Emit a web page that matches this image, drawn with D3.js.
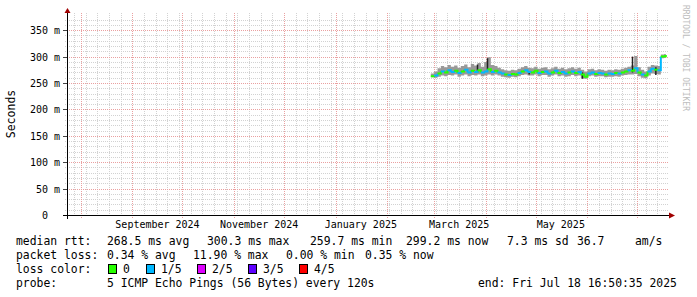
<!DOCTYPE html>
<html>
<head>
<meta charset="utf-8">
<script src="https://d3js.org/d3.v7.min.js"></script>
<style>
  body { margin: 0; background: #fff; }
  text { font-family: "DejaVu Sans Mono", monospace; white-space: pre; }
</style>
</head>
<body>
<div id="chart"></div>
<script>

// ---- data ----
var endTime = new Date(Date.UTC(2025, 6, 18, 16, 50, 35));
var spanDays = 360;

var dates = ["2025-02-27","2025-03-01","2025-03-03","2025-03-05","2025-03-07","2025-03-09","2025-03-11","2025-03-13",
  "2025-03-15","2025-03-17","2025-03-19","2025-03-21","2025-03-23","2025-03-25","2025-03-27","2025-03-29",
  "2025-03-31","2025-04-02","2025-04-04","2025-04-06","2025-04-08","2025-04-10","2025-04-12","2025-04-14",
  "2025-04-16","2025-04-18","2025-04-20","2025-04-22","2025-04-24","2025-04-26","2025-04-28","2025-04-30",
  "2025-05-02","2025-05-04","2025-05-06","2025-05-08","2025-05-10","2025-05-12","2025-05-14","2025-05-16",
  "2025-05-18","2025-05-20","2025-05-22","2025-05-24","2025-05-26","2025-05-28","2025-05-30","2025-06-01",
  "2025-06-03","2025-06-05","2025-06-07","2025-06-09","2025-06-11","2025-06-13","2025-06-15","2025-06-17",
  "2025-06-19","2025-06-21","2025-06-23","2025-06-25","2025-06-27","2025-06-29","2025-07-01","2025-07-03",
  "2025-07-05","2025-07-07","2025-07-09","2025-07-11","2025-07-13","2025-07-15","2025-07-17","2025-07-18"];

// median rtt, ms
var median = [263,264,268,272,270,274,271,273,269,272,275,270,273,271,274,270,
  272,276,271,273,270,268,266,265,267,266,269,272,274,271,270,273,
  269,271,272,268,270,273,269,271,268,270,272,269,271,266,262,268,
  270,267,269,268,266,268,267,269,268,270,272,274,273,278,270,266,
  264,272,277,275,274,300,301,299];

// smoke band (ms)
var smokeLo = [261,260,262,264,263,265,264,266,262,264,266,263,265,264,266,263,
  264,266,264,266,264,262,261,260,262,261,263,265,266,264,264,266,
  263,265,265,262,264,266,263,264,262,263,265,263,264,259,258,263,
  264,262,263,263,261,262,262,263,262,264,265,266,266,267,263,260,
  259,264,268,267,266,297,298,297];
var smokeHi = [268,272,278,282,280,284,281,283,279,282,285,280,286,283,288,281,
  290,299,284,282,279,276,274,273,275,274,277,280,282,279,278,281,
  277,279,280,276,278,281,277,279,276,278,280,277,279,275,272,276,
  277,274,276,275,273,275,274,276,275,277,279,281,283,301,280,275,
  272,281,284,283,282,304,305,303];

// lost pings out of 5
var lossLevel = [0,1,0,1,0,1,1,0,1,0,1,1,0,1,0,1,
  1,0,1,0,1,1,0,1,0,0,1,0,1,1,0,0,
  1,0,1,1,0,1,0,1,1,0,1,0,1,0,0,1,
  1,0,1,1,0,1,1,0,1,0,0,1,0,1,0,1,
  0,1,1,0,1,0,0,0];

// dark outlier streaks
var outlierDates = ["2025-03-27","2025-04-02","2025-04-27","2025-05-29","2025-06-28","2025-07-12"];
var outlierLo = [270,275,266,258,270,265];
var outlierHi = [285,297,272,270,300,280];

var lossColors = ["#26ff00","#00b8ff","#dd00ff","#5e00ff","#ff0000"];
var lossNames = ["0","1/5","2/5","3/5","4/5"];

var yTicks = [0,50,100,150,200,250,300,350];
var yTickLabels = ["0  ","50 m","100 m","150 m","200 m","250 m","300 m","350 m"];

var xLabelMonths = ["2024-09-01","2024-11-01","2025-01-01","2025-03-01","2025-05-01"];
var xLabelText = ["September 2024","November 2024","January 2025","March 2025","May 2025"];

// ---- layout ----
var W = 697, H = 297;
var x0 = 67, x1 = 667, yTop = 15, yBot = 215;

var svg = d3.select("#chart").append("svg")
  .attr("width", W).attr("height", H);

svg.append("rect").attr("width", W).attr("height", H).attr("fill", "#fff");

var parse = d3.utcParse("%Y-%m-%d");
var startTime = new Date(endTime.getTime() - spanDays * 864e5);

var x = d3.scaleUtc().domain([startTime, endTime]).range([x0, x1]);
var y = d3.scaleLinear().domain([0, 378.8]).range([yBot, yTop]);

var grid = svg.append("g").attr("shape-rendering", "crispEdges");
var minorCol = "#d2d2d2", majorCol = "#eaa0a0";

// minor horizontal grid every 10 ms
d3.range(10, 378, 10).filter(function(v) { return v % 50 != 0; }).forEach(function(v) {
  grid.append("line")
    .attr("x1", x0 - 2).attr("x2", x1 + 2)
    .attr("y1", Math.round(y(v)) + 0.5).attr("y2", Math.round(y(v)) + 0.5)
    .attr("stroke", minorCol).attr("stroke-dasharray", "1,1");
});

// minor vertical grid weekly
d3.utcSunday.range(startTime, endTime).forEach(function(d) {
  grid.append("line")
    .attr("x1", Math.round(x(d)) + 0.5).attr("x2", Math.round(x(d)) + 0.5)
    .attr("y1", yTop - 2).attr("y2", yBot + 2)
    .attr("stroke", minorCol).attr("stroke-dasharray", "1,1");
});

// major vertical grid monthly
d3.utcMonth.range(startTime, endTime).forEach(function(d) {
  grid.append("line")
    .attr("x1", Math.round(x(d)) + 0.5).attr("x2", Math.round(x(d)) + 0.5)
    .attr("y1", yTop - 2).attr("y2", yBot + 3)
    .attr("stroke", majorCol).attr("stroke-dasharray", "1,1");
});

// major horizontal grid
yTicks.forEach(function(v, i) {
  if (v > 0) {
    grid.append("line")
      .attr("x1", x0).attr("x2", x1 + 2)
      .attr("y1", Math.round(y(v)) + 0.5).attr("y2", Math.round(y(v)) + 0.5)
      .attr("stroke", majorCol).attr("stroke-dasharray", "1,1");
  }
  grid.append("line")
    .attr("x1", x0 - 4).attr("x2", x0)
    .attr("y1", Math.round(y(v)) + 0.5).attr("y2", Math.round(y(v)) + 0.5)
    .attr("stroke", "#444");
  svg.append("text")
    .attr("x", 60).attr("y", y(v) + 4)
    .attr("text-anchor", "end")
    .attr("font-size", "10px")
    .attr("fill", "#000")
    .text(yTickLabels[i]);
});

// x labels (centred mid month)
xLabelMonths.forEach(function(m, i) {
  var d = parse(m);
  var mid = new Date(d.getTime() + 15 * 864e5);
  svg.append("text")
    .attr("x", x(mid)).attr("y", 228)
    .attr("text-anchor", "middle")
    .attr("font-size", "10px")
    .attr("fill", "#000")
    .text(xLabelText[i]);
});

// ---- data ----
var pts = dates.map(function(d, i) {
  return { date: parse(d), med: median[i], lo: smokeLo[i], hi: smokeHi[i], loss: lossLevel[i] };
});

var plot = svg.append("g");

plot.append("path")
  .datum(pts)
  .attr("fill", "#999999")
  .attr("d", d3.area()
    .curve(d3.curveStepAfter)
    .x(function(d) { return x(d.date); })
    .y0(function(d) { return y(d.lo); })
    .y1(function(d) { return y(d.hi); }));

outlierDates.forEach(function(d, i) {
  plot.append("line")
    .attr("x1", x(parse(d))).attr("x2", x(parse(d)))
    .attr("y1", y(outlierLo[i])).attr("y2", y(outlierHi[i]))
    .attr("stroke", "#222").attr("stroke-width", 1.5);
});

var medLine = d3.line()
  .curve(d3.curveStepAfter)
  .x(function(d) { return x(d.date); })
  .y(function(d) { return y(d.med); });

for (var i = 0; i < pts.length - 1; i++) {
  plot.append("path")
    .datum([pts[i], pts[i + 1]])
    .attr("fill", "none")
    .attr("stroke", lossColors[pts[i].loss])
    .attr("stroke-width", 2)
    .attr("d", medLine);
}

// ---- axes ----
svg.append("line")
  .attr("x1", x0 - 4).attr("x2", x1 + 3)
  .attr("y1", yBot + 0.5).attr("y2", yBot + 0.5)
  .attr("stroke", "#000").attr("shape-rendering", "crispEdges");
svg.append("line")
  .attr("x1", x0 + 0.5).attr("x2", x0 + 0.5)
  .attr("y1", yTop - 3).attr("y2", yBot + 4)
  .attr("stroke", "#000").attr("shape-rendering", "crispEdges");

svg.append("path")
  .attr("d", "M64.5,13 L70.5,13 L67.5,8 Z")
  .attr("fill", "#a00000");
svg.append("path")
  .attr("d", "M669,212.5 L669,218.5 L675,215.5 Z")
  .attr("fill", "#a00000");

svg.append("text")
  .attr("transform", "translate(15,114) rotate(-90)")
  .attr("text-anchor", "middle")
  .attr("font-size", "11.5px")
  .attr("fill", "#000")
  .text("Seconds");

svg.append("text")
  .attr("transform", "translate(683,5) rotate(90)")
  .attr("font-size", "8px")
  .attr("fill", "#bdbdbd")
  .text("RRDTOOL / TOBI OETIKER");

// ---- legend ----
var legFont = "11.4px";
function legText(xp, yp, t) {
  svg.append("text").attr("x", xp).attr("y", yp)
    .attr("font-size", legFont).attr("fill", "#000").text(t);
}

legText(16, 245, "median rtt:");
legText(107, 245, "268.5 ms avg");
legText(207, 245, "300.3 ms max");
legText(310, 245, "259.7 ms min");
legText(406, 245, "299.2 ms now");
legText(507, 245, "7.3 ms sd");
legText(577, 245, "36.7");
legText(635, 245, "am/s");

legText(16, 259, "packet loss:");
legText(107, 259, "0.34 % avg");
legText(193, 259, "11.90 % max");
legText(286, 259, "0.00 % min");
legText(365, 259, "0.35 % now");

legText(16, 273, "loss color:");
var boxX = [108, 146, 197, 248, 299];
lossNames.forEach(function(n, i) {
  svg.append("rect")
    .attr("x", boxX[i] + 0.5).attr("y", 264.5)
    .attr("width", 8).attr("height", 9)
    .attr("fill", lossColors[i]).attr("stroke", "#000");
  legText(boxX[i] + 15, 273, n);
});

legText(16, 287, "probe:");
legText(107, 287, "5 ICMP Echo Pings (56 Bytes) every 120s");
legText(478, 287, "end: Fri Jul 18 16:50:35 2025");

</script>
</body>
</html>
